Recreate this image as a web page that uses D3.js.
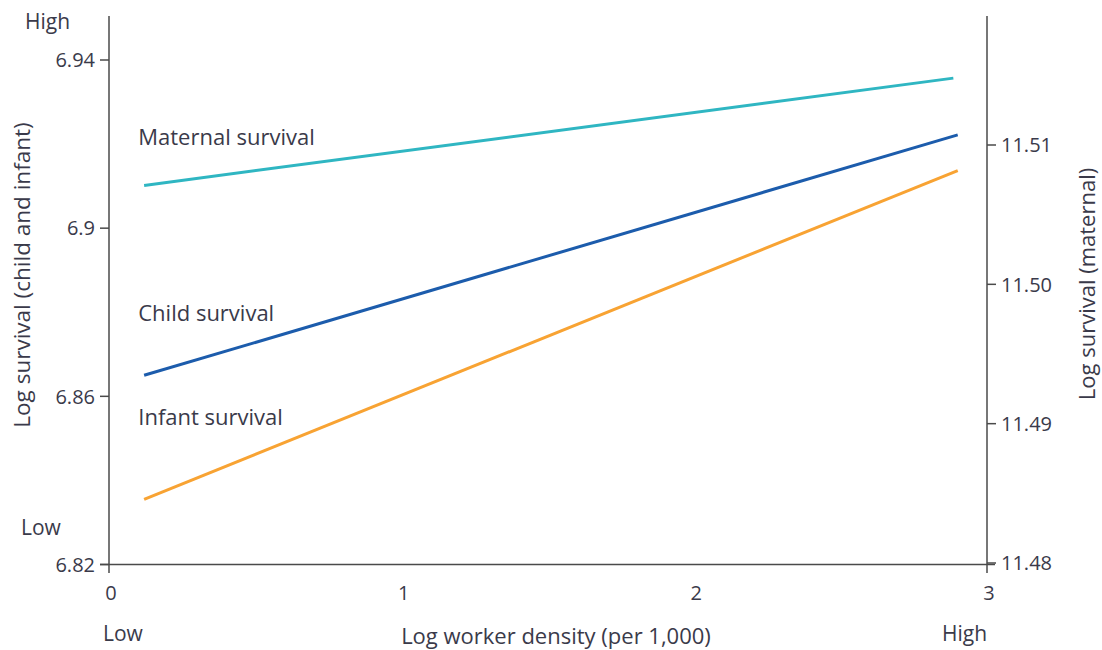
<!DOCTYPE html>
<html>
<head>
<meta charset="utf-8">
<script src="https://cdn.jsdelivr.net/npm/d3@7"></script>
<style>
  body { margin: 0; background: #fff; }
  svg text { font-family: "Open Sans", Lato, sans-serif; fill: #3a3a4a; }
</style>
</head>
<body>
<svg id="chart" width="1102" height="650"></svg>
<script>
// x positions of line ends (log worker density)
let xStart = [0.12, 0.12, 0.12]
let xEnd = [2.885, 2.9, 2.9]
let seriesNames = ['Maternal survival', 'Child survival', 'Infant survival']
let seriesAxis = ['right', 'left', 'left']
let yStart = [11.5071, 6.865, 6.8355]
let yEnd = [11.5148, 6.9222, 6.9137]
let colors = ['#2fb6c2', '#1c5cac', '#f8a333']
let labelX = [0.1, 0.1, 0.1]
let labelY = [11.51, 6.8779, 6.8532]

let xTicks = [0, 1, 2, 3]
let leftTicks = [6.82, 6.86, 6.9, 6.94]
let rightTicks = [11.48, 11.49, 11.50, 11.51]

let svg = d3.select('#chart')
let x = d3.scaleLinear().domain([0, 3]).range([109, 987])
let yL = d3.scaleLinear().domain([6.82, 6.94]).range([564.5, 60])
let yR = d3.scaleLinear().domain([11.48, 11.51]).range([563, 145])

let axisColor = '#4a4a4a'

// axis lines
svg.append('line').attr('x1', 109).attr('x2', 109).attr('y1', 16).attr('y2', 573)
  .attr('stroke', axisColor).attr('stroke-width', 1.5)
svg.append('line').attr('x1', 987).attr('x2', 987).attr('y1', 16).attr('y2', 573)
  .attr('stroke', axisColor).attr('stroke-width', 1.5)
svg.append('line').attr('x1', 100).attr('x2', 995).attr('y1', 564.5).attr('y2', 564.5)
  .attr('stroke', axisColor).attr('stroke-width', 1.5)

// left ticks
leftTicks.forEach(function(t){
  svg.append('line').attr('x1', 100).attr('x2', 109).attr('y1', yL(t)).attr('y2', yL(t))
    .attr('stroke', axisColor).attr('stroke-width', 1.5)
  svg.append('text').attr('x', 95).attr('y', yL(t)).attr('dy', '0.36em')
    .attr('text-anchor', 'end').attr('font-size', 20).text(d3.format('')(t))
})
// right ticks
rightTicks.forEach(function(t){
  svg.append('line').attr('x1', 987).attr('x2', 996).attr('y1', yR(t)).attr('y2', yR(t))
    .attr('stroke', axisColor).attr('stroke-width', 1.5)
  svg.append('text').attr('x', 1001).attr('y', yR(t)).attr('dy', '0.36em')
    .attr('font-size', 20).text(t.toFixed(2))
})
// x tick labels
xTicks.forEach(function(t){
  svg.append('text').attr('x', x(t) + 2).attr('y', 600)
    .attr('text-anchor', 'middle').attr('font-size', 20).text(t)
})

// lines
seriesNames.forEach(function(name, i){
  let y = seriesAxis[i] == 'right' ? yR : yL
  svg.append('line')
    .attr('x1', x(xStart[i])).attr('y1', y(yStart[i]))
    .attr('x2', x(xEnd[i])).attr('y2', y(yEnd[i]))
    .attr('stroke', colors[i]).attr('stroke-width', 3)
  svg.append('text').attr('x', x(labelX[i])).attr('y', y(labelY[i]))
    .attr('font-size', 22).text(name)
})

// Low / High labels
svg.append('text').attr('x', 25).attr('y', 29).attr('font-size', 21).text('High')
svg.append('text').attr('x', 21).attr('y', 535).attr('font-size', 21).text('Low')
svg.append('text').attr('x', 103).attr('y', 641).attr('font-size', 21).text('Low')
svg.append('text').attr('x', 942).attr('y', 641).attr('font-size', 21).text('High')

// axis titles
svg.append('text').attr('x', 556).attr('y', 644).attr('text-anchor', 'middle')
  .attr('font-size', 22).text('Log worker density (per 1,000)')
svg.append('text').attr('transform', 'translate(30,275) rotate(-90)')
  .attr('text-anchor', 'middle').attr('font-size', 22.5).text('Log survival (child and infant)')
svg.append('text').attr('transform', 'translate(1095,284) rotate(-90)')
  .attr('text-anchor', 'middle').attr('font-size', 22).text('Log survival (maternal)')
</script>
</body>
</html>
